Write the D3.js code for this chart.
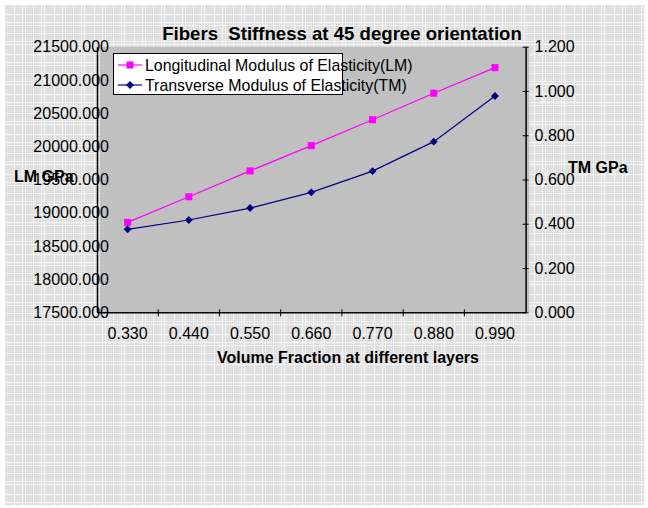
<!DOCTYPE html>
<html><head><meta charset="utf-8">
<script src="https://cdn.jsdelivr.net/npm/d3@7"></script>
<style>body{margin:0;background:#fff}svg{display:block}text{font-family:"Liberation Sans",Arial,sans-serif}</style>
</head><body><svg id="c" width="648" height="508"></svg>
<script>
const categories = ["0.330","0.440","0.550","0.660","0.770","0.880","0.990"];
const lmValues = [18855, 19240, 19630, 20010, 20400, 20800, 21185];
const tmValues = [0.375, 0.417, 0.471, 0.542, 0.638, 0.771, 0.977];
const lmTicks = [17500,18000,18500,19000,19500,20000,20500,21000,21500];
const tmTicks = [0,0.2,0.4,0.6,0.8,1.0,1.2];
const seriesNames = ["Longitudinal Modulus of Elasticity(LM)","Transverse Modulus of Elasticity(TM)"];

const svg = d3.select("#c");
const defs = svg.append("defs");
const pat = defs.append("pattern").attr("id","bg").attr("patternUnits","userSpaceOnUse")
  .attr("width",40).attr("height",40);
pat.append("rect").attr("width",40).attr("height",40).attr("fill","#e3e3e3");
const dots = defs.append("pattern").attr("id","dt").attr("patternUnits","userSpaceOnUse").attr("width",2).attr("height",2);
dots.append("rect").attr("width",1).attr("height",1).attr("fill","#d8d8d8");
pat.append("rect").attr("width",40).attr("height",40).attr("fill","url(#dt)");
[[1,1],[4,1],[14,1],[22,1],[25,1],[33,1]].forEach(([p,w])=>{
  pat.append("rect").attr("x",p).attr("y",0).attr("width",w).attr("height",40).attr("fill","#f4f4f4");
  pat.append("rect").attr("x",0).attr("y",p).attr("width",40).attr("height",w).attr("fill","#f4f4f4");
});
svg.append("rect").attr("x",5).attr("y",5).attr("width",640).attr("height",500).attr("fill","url(#bg)");

const pL = 97, pR = 525.6, pT = 46.7, pB = 312.3;
const x = d3.scaleBand().domain(categories).range([pL,pR]);
const yL = d3.scaleLinear().domain([17500,21500]).range([pB,pT]);
const yR = d3.scaleLinear().domain([0,1.2]).range([pB,pT]);

svg.append("rect").attr("x",pL+3).attr("y",pT).attr("width",pR-pL+0.5).attr("height",pB-pT).attr("fill","#c0c0c0");

const fs = "16px";
const gL = svg.append("g").attr("transform",`translate(${pL},0)`)
  .call(d3.axisLeft(yL).tickValues(lmTicks).tickSize(0).tickFormat(d3.format(".3f")));
gL.select(".domain").attr("stroke","#000").attr("stroke-width",1.5);
gL.selectAll("text").attr("x",12).attr("font-size",fs).attr("fill","#000").attr("font-family","Liberation Sans, Arial, sans-serif");
const gR = svg.append("g").attr("transform",`translate(${pR},0)`)
  .call(d3.axisRight(yR).tickValues(tmTicks).tickSizeInner(3).tickSizeOuter(0).tickFormat(d3.format(".3f")));
gR.select(".domain").attr("stroke","#000").attr("stroke-width",1.5);
gR.selectAll(".tick line").attr("x1",-3).attr("stroke","#000");
gR.selectAll("text").attr("x",9).attr("font-size",fs).attr("fill","#000").attr("font-family","Liberation Sans, Arial, sans-serif");
const gB = svg.append("g").attr("transform",`translate(0,${pB})`)
  .call(d3.axisBottom(x).tickSize(0).tickFormat(d=>d));
gB.select(".domain").attr("stroke","#000").attr("stroke-width",1.5);
gB.selectAll("text").attr("dy","1.5em").attr("font-size",fs).attr("fill","#000").attr("font-family","Liberation Sans, Arial, sans-serif");
svg.append("g").selectAll("line").data(categories.slice(1)).join("line")
  .attr("x1",d=>x(d)).attr("x2",d=>x(d)).attr("y1",pB-3).attr("y2",pB+4).attr("stroke","#000");

const cx = d=>x(d)+x.bandwidth()/2;
svg.append("path").datum(categories.map((c,i)=>[cx(c),yL(lmValues[i])]))
  .attr("d",d3.line()).attr("fill","none").attr("stroke","#ff00ff").attr("stroke-width",1.2);
svg.append("path").datum(categories.map((c,i)=>[cx(c),yR(tmValues[i])]))
  .attr("d",d3.line()).attr("fill","none").attr("stroke","#000080").attr("stroke-width",1.2);
svg.append("g").selectAll("rect").data(categories).join("rect")
  .attr("x",(c)=>cx(c)-3.5).attr("y",(c,i)=>yL(lmValues[i])-3.5).attr("width",7).attr("height",7).attr("fill","#ff00ff");
const diamond = d3.symbol().type(d3.symbolDiamond2).size(40);
svg.append("g").selectAll("path").data(categories).join("path")
  .attr("transform",(c,i)=>`translate(${cx(c)},${yR(tmValues[i])})`).attr("d",diamond).attr("fill","#000080");

svg.append("rect").attr("x",113.5).attr("y",53.5).attr("width",229).attr("height",41).attr("fill","#fff").attr("stroke","#000");
const lg = svg.append("g");
[0,1].forEach(i=>{
  const yy = 65 + i*20;
  lg.append("line").attr("x1",118).attr("x2",142).attr("y1",yy).attr("y2",yy).attr("stroke",i?"#000080":"#ff00ff").attr("stroke-width",1.2);
  if(i===0) lg.append("rect").attr("x",126.5).attr("y",yy-3.5).attr("width",7).attr("height",7).attr("fill","#ff00ff");
  else lg.append("path").attr("transform",`translate(130,${yy})`).attr("d",diamond).attr("fill","#000080");
  lg.append("text").attr("x",145).attr("y",yy).attr("dy","0.36em").attr("font-size","15.9px").attr("fill","#000").text(seriesNames[i]);
});

svg.append("text").attr("x",342).attr("y",40).attr("text-anchor","middle").attr("font-size","18.6px").attr("font-weight","bold").style("white-space","pre").text("Fibers  Stiffness at 45 degree orientation");
svg.append("text").attr("x",14).attr("y",182).attr("font-size","16px").attr("font-weight","bold").text("LM GPa");
svg.append("text").attr("x",568).attr("y",173).attr("font-size","16px").attr("font-weight","bold").text("TM GPa");
svg.append("text").attr("x",348).attr("y",363).attr("text-anchor","middle").attr("font-size","16px").attr("font-weight","bold").text("Volume Fraction at different layers");
</script></body></html>
